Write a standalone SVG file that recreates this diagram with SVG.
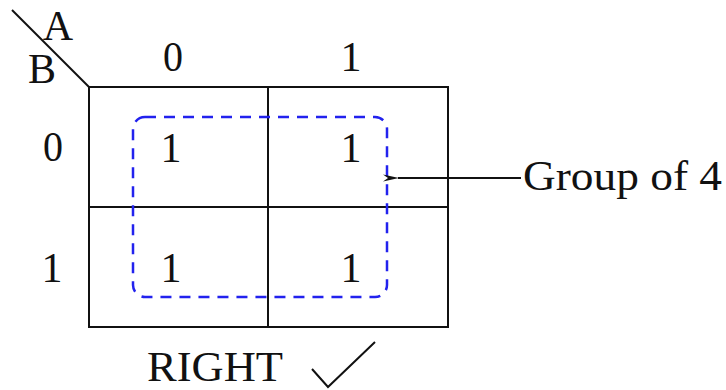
<svg xmlns="http://www.w3.org/2000/svg" width="726" height="390" viewBox="0 0 726 390">
<defs>
<style>
text{font-family:"Liberation Serif","DejaVu Serif",serif;fill:#111;font-size:42px}
.d{text-anchor:middle}
.ln{stroke:#111;stroke-width:2;fill:none}
</style>
<marker id="ah" markerWidth="16" markerHeight="8" refX="1" refY="4" orient="auto" markerUnits="userSpaceOnUse"><path d="M16,0.5 L0,4 L16,7.5 L11,4 Z" fill="#111"/></marker>
</defs>
<rect width="726" height="390" fill="#fff"/>
<g id="kmap">
<rect x="89" y="87" width="359" height="240" class="ln"/>
<line x1="268" y1="87" x2="268" y2="327" class="ln"/>
<line x1="89" y1="207" x2="448" y2="207" class="ln"/>
<line x1="12" y1="10" x2="89" y2="87" class="ln"/>
<text class="d" x="58" y="40" font-size="40">A</text>
<text class="d" x="42" y="83" font-size="40">B</text>
<text class="d" x="173" y="71" textLength="20" lengthAdjust="spacingAndGlyphs">0</text>
<text class="d" x="351" y="71">1</text>
<text class="d" x="53" y="161" textLength="20" lengthAdjust="spacingAndGlyphs">0</text>
<text class="d" x="52" y="282">1</text>
<text class="d" x="171" y="162">1</text>
<text class="d" x="351" y="162">1</text>
<text class="d" x="171" y="282">1</text>
<text class="d" x="351" y="282">1</text>
</g>
<g id="group">
<rect x="133" y="117" width="254" height="180" rx="12" fill="none" stroke="#2222ee" stroke-width="2.5" stroke-dasharray="11,8"/>
</g>
<g id="connectors">
<line x1="521" y1="178" x2="398" y2="178" class="ln" marker-end="url(#ah)"/>
</g>
<g id="label">
<text x="523" y="190" textLength="199" lengthAdjust="spacingAndGlyphs">Group of  4</text>
</g>
<g id="right">
<text x="147" y="381" font-size="43" textLength="136" lengthAdjust="spacingAndGlyphs">RIGHT</text>
<path d="M312,369 L328,387 L375,342" class="ln"/>
</g>
</svg>
